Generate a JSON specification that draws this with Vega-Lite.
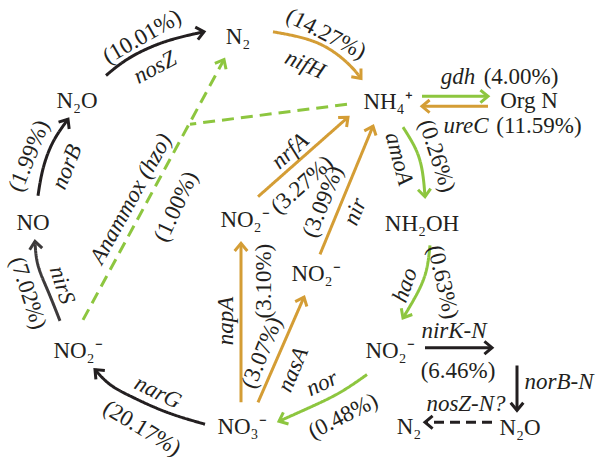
{
  "$schema": "https://vega.github.io/schema/vega-lite/v6.json",
  "width": 596,
  "height": 461,
  "padding": 0,
  "autosize": {"type": "fit", "contains": "padding"},
  "background": "white",
  "config": {"view": {"stroke": null}},
  "datasets": {
    "paths": [
      {"id": "nosZ", "i": 0, "x": 106, "y": 76, "group": "den", "dash": "solid"},
      {"id": "nosZ", "i": 1, "x": 130, "y": 58, "group": "den", "dash": "solid"},
      {"id": "nosZ", "i": 2, "x": 165, "y": 42, "group": "den", "dash": "solid"},
      {"id": "nosZ", "i": 3, "x": 204, "y": 32, "group": "den", "dash": "solid"},
      {"id": "nifH", "i": 0, "x": 273, "y": 32, "group": "red", "dash": "solid"},
      {"id": "nifH", "i": 1, "x": 317, "y": 43, "group": "red", "dash": "solid"},
      {"id": "nifH", "i": 2, "x": 347, "y": 63, "group": "red", "dash": "solid"},
      {"id": "nifH", "i": 3, "x": 361, "y": 79, "group": "red", "dash": "solid"},
      {"id": "gdh", "i": 0, "x": 422, "y": 97, "group": "oxi", "dash": "solid"},
      {"id": "gdh", "i": 1, "x": 488, "y": 97, "group": "oxi", "dash": "solid"},
      {"id": "ureC", "i": 0, "x": 488, "y": 107, "group": "red", "dash": "solid"},
      {"id": "ureC", "i": 1, "x": 422, "y": 107, "group": "red", "dash": "solid"},
      {"id": "amoA", "i": 0, "x": 403, "y": 128, "group": "oxi", "dash": "solid"},
      {"id": "amoA", "i": 1, "x": 417, "y": 153, "group": "oxi", "dash": "solid"},
      {"id": "amoA", "i": 2, "x": 423, "y": 177, "group": "oxi", "dash": "solid"},
      {"id": "amoA", "i": 3, "x": 425, "y": 198, "group": "oxi", "dash": "solid"},
      {"id": "hao", "i": 0, "x": 430, "y": 247, "group": "oxi", "dash": "solid"},
      {"id": "hao", "i": 1, "x": 425, "y": 277, "group": "oxi", "dash": "solid"},
      {"id": "hao", "i": 2, "x": 413, "y": 303, "group": "oxi", "dash": "solid"},
      {"id": "hao", "i": 3, "x": 403, "y": 320, "group": "oxi", "dash": "solid"},
      {"id": "nirK", "i": 0, "x": 425, "y": 350, "group": "den", "dash": "solid"},
      {"id": "nirK", "i": 1, "x": 492, "y": 350, "group": "den", "dash": "solid"},
      {"id": "norBN", "i": 0, "x": 517, "y": 368, "group": "den", "dash": "solid"},
      {"id": "norBN", "i": 1, "x": 517, "y": 413, "group": "den", "dash": "solid"},
      {"id": "nosZN", "i": 0, "x": 492, "y": 425, "group": "den", "dash": "short"},
      {"id": "nosZN", "i": 1, "x": 425, "y": 425, "group": "den", "dash": "short"},
      {"id": "nor", "i": 0, "x": 367, "y": 377, "group": "oxi", "dash": "solid"},
      {"id": "nor", "i": 1, "x": 340, "y": 395, "group": "oxi", "dash": "solid"},
      {"id": "nor", "i": 2, "x": 310, "y": 410, "group": "oxi", "dash": "solid"},
      {"id": "nor", "i": 3, "x": 279, "y": 424, "group": "oxi", "dash": "solid"},
      {"id": "narG", "i": 0, "x": 205, "y": 427, "group": "den", "dash": "solid"},
      {"id": "narG", "i": 1, "x": 167, "y": 415, "group": "den", "dash": "solid"},
      {"id": "narG", "i": 2, "x": 133, "y": 400, "group": "den", "dash": "solid"},
      {"id": "narG", "i": 3, "x": 110, "y": 387, "group": "den", "dash": "solid"},
      {"id": "narG", "i": 4, "x": 95, "y": 372, "group": "den", "dash": "solid"},
      {"id": "nirS", "i": 0, "x": 60, "y": 323, "group": "den2", "dash": "solid"},
      {"id": "nirS", "i": 1, "x": 48, "y": 293, "group": "den2", "dash": "solid"},
      {"id": "nirS", "i": 2, "x": 38, "y": 267, "group": "den2", "dash": "solid"},
      {"id": "nirS", "i": 3, "x": 35, "y": 243, "group": "den2", "dash": "solid"},
      {"id": "norB", "i": 0, "x": 38, "y": 197, "group": "den", "dash": "solid"},
      {"id": "norB", "i": 1, "x": 43, "y": 170, "group": "den", "dash": "solid"},
      {"id": "norB", "i": 2, "x": 53, "y": 143, "group": "den", "dash": "solid"},
      {"id": "norB", "i": 3, "x": 68, "y": 120, "group": "den", "dash": "solid"},
      {"id": "anammox", "i": 0, "x": 83, "y": 322, "group": "oxi", "dash": "long"},
      {"id": "anammox", "i": 1, "x": 224, "y": 60, "group": "oxi", "dash": "long"},
      {"id": "anammox2", "i": 0, "x": 347, "y": 105, "group": "oxi", "dash": "long"},
      {"id": "anammox2", "i": 1, "x": 190, "y": 125, "group": "oxi", "dash": "long"},
      {"id": "napA", "i": 0, "x": 241, "y": 405, "group": "red", "dash": "solid"},
      {"id": "napA", "i": 1, "x": 241, "y": 245, "group": "red", "dash": "solid"},
      {"id": "nasA", "i": 0, "x": 258, "y": 405, "group": "red", "dash": "solid"},
      {"id": "nasA", "i": 1, "x": 304, "y": 299, "group": "red", "dash": "solid"},
      {"id": "nrfA", "i": 0, "x": 258, "y": 198, "group": "red", "dash": "solid"},
      {"id": "nrfA", "i": 1, "x": 348, "y": 118, "group": "red", "dash": "solid"},
      {"id": "nir", "i": 0, "x": 320, "y": 256, "group": "red", "dash": "solid"},
      {"id": "nir", "i": 1, "x": 373, "y": 127, "group": "red", "dash": "solid"}
    ],
    "heads": [
      {"x": 204, "y": 32, "a": 78, "group": "den"},
      {"x": 361, "y": 79, "a": 140, "group": "red"},
      {"x": 488, "y": 97, "a": 90, "group": "oxi"},
      {"x": 422, "y": 107, "a": 270, "group": "red"},
      {"x": 425, "y": 198, "a": 175, "group": "oxi"},
      {"x": 403, "y": 320, "a": 210, "group": "oxi"},
      {"x": 492, "y": 350, "a": 90, "group": "den"},
      {"x": 517, "y": 413, "a": 180, "group": "den"},
      {"x": 425, "y": 425, "a": 270, "group": "den"},
      {"x": 279, "y": 424, "a": 246, "group": "oxi"},
      {"x": 95, "y": 372, "a": 315, "group": "den"},
      {"x": 35, "y": 243, "a": 353, "group": "den2"},
      {"x": 68, "y": 120, "a": 33, "group": "den"},
      {"x": 224, "y": 60, "a": 28, "group": "oxi"},
      {"x": 241, "y": 245, "a": 0, "group": "red"},
      {"x": 304, "y": 299, "a": 23, "group": "red"},
      {"x": 348, "y": 118, "a": 48, "group": "red"},
      {"x": 373, "y": 127, "a": 22, "group": "red"}
    ],
    "nodes": [
      {"x": 238, "y": 37, "t": "N₂"},
      {"x": 77, "y": 102, "t": "N₂O"},
      {"x": 33, "y": 224, "t": "NO"},
      {"x": 78, "y": 353, "t": "NO₂⁻"},
      {"x": 242, "y": 430, "t": "NO₃⁻"},
      {"x": 245, "y": 221, "t": "NO₂⁻"},
      {"x": 316, "y": 276, "t": "NO₂⁻"},
      {"x": 388, "y": 103, "t": "NH₄⁺"},
      {"x": 529, "y": 102, "t": "Org N"},
      {"x": 422, "y": 225, "t": "NH₂OH"},
      {"x": 390, "y": 353, "t": "NO₂⁻"},
      {"x": 520, "y": 431, "t": "N₂O"},
      {"x": 409, "y": 430, "t": "N₂"}
    ],
    "values": [
      {"x": 142, "y": 37, "a": -30, "t": "(10.01%)"},
      {"x": 326, "y": 34, "a": 27, "t": "(14.27%)"},
      {"x": 521, "y": 78, "a": 0, "t": "(4.00%)"},
      {"x": 539, "y": 127, "a": 0, "t": "(11.59%)"},
      {"x": 437, "y": 157, "a": 72, "t": "(0.26%)"},
      {"x": 443, "y": 284, "a": 77, "t": "(0.63%)"},
      {"x": 458, "y": 373, "a": 0, "t": "(6.46%)"},
      {"x": 343, "y": 419, "a": -27, "t": "(0.48%)"},
      {"x": 142, "y": 431, "a": 31, "t": "(20.17%)"},
      {"x": 28, "y": 295, "a": 72, "t": "(7.02%)"},
      {"x": 29, "y": 157, "a": -68, "t": "(1.99%)"},
      {"x": 176, "y": 208, "a": -65, "t": "(1.00%)"},
      {"x": 264, "y": 283, "a": -90, "t": "(3.10%)"},
      {"x": 262, "y": 355, "a": -68, "t": "(3.07%)"},
      {"x": 302, "y": 186, "a": -42, "t": "(3.27%)"},
      {"x": 323, "y": 203, "a": -68, "t": "(3.09%)"}
    ],
    "genes": [
      {"x": 155, "y": 68, "a": -28, "t": "nosZ"},
      {"x": 305, "y": 65, "a": 24, "t": "nifH"},
      {"x": 458, "y": 78, "a": 0, "t": "gdh"},
      {"x": 466, "y": 127, "a": 0, "t": "ureC"},
      {"x": 399, "y": 160, "a": 75, "t": "amoA"},
      {"x": 405, "y": 287, "a": -70, "t": "hao"},
      {"x": 454, "y": 333, "a": 0, "t": "nirK-N"},
      {"x": 559, "y": 385, "a": 0, "t": "norB-N"},
      {"x": 466, "y": 407, "a": 0, "t": "nosZ-N?"},
      {"x": 322, "y": 386, "a": -25, "t": "nor"},
      {"x": 158, "y": 395, "a": 26, "t": "narG"},
      {"x": 62, "y": 287, "a": 72, "t": "nirS"},
      {"x": 67, "y": 168, "a": -68, "t": "norB"},
      {"x": 131, "y": 200, "a": -61, "t": "Anammox (hzo)"},
      {"x": 226, "y": 323, "a": -90, "t": "napA"},
      {"x": 293, "y": 372, "a": -67, "t": "nasA"},
      {"x": 290, "y": 152, "a": -42, "t": "nrfA"},
      {"x": 355, "y": 213, "a": -68, "t": "nir"}
    ]
  },
  "encoding": {
    "x": {"field": "x", "type": "quantitative", "scale": {"domain": [0, 596], "nice": false, "zero": false}, "axis": null},
    "y": {"field": "y", "type": "quantitative", "scale": {"domain": [0, 461], "nice": false, "zero": false, "reverse": true}, "axis": null}
  },
  "layer": [
    {
      "data": {"name": "paths"},
      "mark": {"type": "line", "interpolate": "natural", "strokeWidth": 3, "strokeCap": "butt"},
      "encoding": {
        "detail": {"field": "id", "type": "nominal"},
        "order": {"field": "i", "type": "quantitative"},
        "color": {"field": "group", "type": "nominal", "scale": {"domain": ["den", "den2", "red", "oxi"], "range": ["#231f20", "#3d3a3b", "#d49d35", "#8dc63f"]}, "legend": null},
        "strokeDash": {"field": "dash", "type": "nominal", "scale": {"domain": ["solid", "long", "short"], "range": [[1, 0], [12, 7], [10, 6]]}, "legend": null}
      }
    },
    {
      "data": {"name": "heads"},
      "mark": {"type": "point", "filled": false, "size": 160, "strokeWidth": 3, "opacity": 1, "shape": "M-1,1.2L0,0L1,1.2"},
      "encoding": {
        "angle": {"field": "a", "type": "quantitative", "scale": null},
        "color": {"field": "group", "type": "nominal", "scale": {"domain": ["den", "den2", "red", "oxi"], "range": ["#231f20", "#3d3a3b", "#d49d35", "#8dc63f"]}, "legend": null}
      }
    },
    {
      "data": {"name": "nodes"},
      "mark": {"type": "text", "font": "Liberation Serif, Times New Roman, Times, serif", "fontSize": 23, "align": "center", "baseline": "middle", "color": "#231f20"},
      "encoding": {"text": {"field": "t", "type": "nominal"}}
    },
    {
      "data": {"name": "values"},
      "mark": {"type": "text", "font": "Liberation Serif, Times New Roman, Times, serif", "fontSize": 23, "align": "center", "baseline": "middle", "color": "#231f20"},
      "encoding": {
        "text": {"field": "t", "type": "nominal"},
        "angle": {"field": "a", "type": "quantitative", "scale": null}
      }
    },
    {
      "data": {"name": "genes"},
      "mark": {"type": "text", "font": "Liberation Serif, Times New Roman, Times, serif", "fontStyle": "italic", "fontSize": 23, "align": "center", "baseline": "middle", "color": "#231f20"},
      "encoding": {
        "text": {"field": "t", "type": "nominal"},
        "angle": {"field": "a", "type": "quantitative", "scale": null}
      }
    }
  ]
}
